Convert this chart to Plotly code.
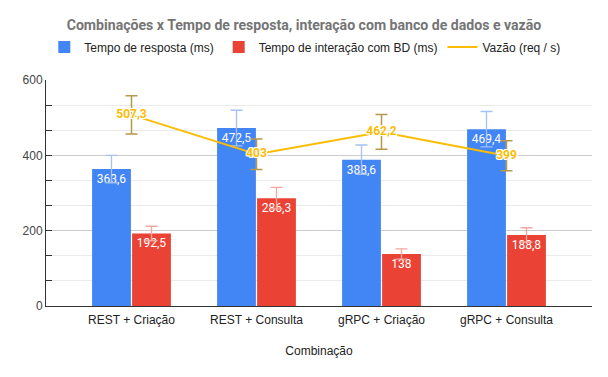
import plotly.graph_objects as go

categorias = ["REST + Criação", "REST + Consulta", "gRPC + Criação", "gRPC + Consulta"]
tempo_resposta = [363.6, 472.5, 388.6, 469.4]
tempo_bd = [192.5, 286.3, 138, 188.8]
vazao = [507.3, 403, 462.2, 399]
erro_percentual = 10

def fmt(v):
    s = ("%.1f" % v).rstrip("0").rstrip(".")
    return s.replace(".", ",")

label_font = "Roboto, Arial, sans-serif"
axis_font = "Arial, Liberation Sans, sans-serif"
outline = "1px 1px 0 #fff, -1px -1px 0 #fff, 1px -1px 0 #fff, -1px 1px 0 #fff, 0 1px 0 #fff, 0 -1px 0 #fff, 1px 0 0 #fff, -1px 0 0 #fff"

fig = go.Figure()
fig.add_trace(go.Bar(
    name="Tempo de resposta (ms)", x=categorias, y=tempo_resposta,
    marker=dict(color="#4285f4", line=dict(width=0)),
    text=[fmt(v) for v in tempo_resposta], textposition="inside", insidetextanchor="end",
    textfont=dict(color="white", size=12, family=label_font), textangle=0,
    error_y=dict(type="percent", value=erro_percentual, color="#a4c2f4", thickness=1.3, width=6),
))
fig.add_trace(go.Bar(
    name="Tempo de interação com BD (ms)", x=categorias, y=tempo_bd,
    marker=dict(color="#ea4335", line=dict(width=0)),
    text=[fmt(v) for v in tempo_bd], textposition="inside", insidetextanchor="end",
    textfont=dict(color="white", size=12, family=label_font), textangle=0,
    error_y=dict(type="percent", value=erro_percentual, color="#f4a7a0", thickness=1.3, width=6),
))
fig.add_trace(go.Scatter(
    name="Vazão (req / s)", x=categorias, y=vazao, mode="lines+text",
    line=dict(color="#fbbc04", width=2),
    text=[fmt(v) for v in vazao], textposition="middle center",
    textfont=dict(color="#fbbc04", size=12, family=label_font, weight="bold", shadow=outline),
    error_y=dict(type="percent", value=erro_percentual, color="#b5984a", thickness=1.5, width=6),
))

fig.update_layout(
    width=608, height=377,
    margin=dict(l=46, r=16, t=80, b=71),
    paper_bgcolor="white", plot_bgcolor="white",
    font=dict(family=axis_font, size=12, color="#222"),
    barmode="group", bargap=0.36, bargroupgap=0.03,
    separators=",.",
    title=dict(text="<b>Combinações x Tempo de resposta, interação com banco de dados e vazão</b>",
               x=0.5, xanchor="center", y=1 - 25 / 377, yanchor="middle",
               font=dict(size=14.1, color="#757575", family=label_font)),
    legend=dict(orientation="h", x=0.474, xanchor="center", y=1 + 33 / 226, yanchor="middle",
                font=dict(size=12, color="#222", family=axis_font), itemwidth=30, traceorder="normal"),
    showlegend=True,
)
fig.update_xaxes(
    range=[-0.684, 3.684], showline=True, linecolor="#333", linewidth=1,
    showgrid=False, ticks="", tickfont=dict(size=12, color="#222", family=axis_font),
    ticklabelstandoff=3,
    title=dict(text="Combinação", font=dict(size=12, color="#222", family=axis_font), standoff=20),
    automargin=False,
)
fig.update_yaxes(
    range=[0, 600], dtick=200, showline=True, linecolor="#333", linewidth=1,
    showgrid=True, gridcolor="#cccccc", gridwidth=1, zeroline=False,
    ticks="inside", ticklen=6, tickcolor="#333",
    tickfont=dict(size=12, color="#444", family=axis_font),
    minor=dict(dtick=200 / 3, ticks="inside", ticklen=6, tickcolor="#333", showgrid=True, gridcolor="#ebebeb"),
    automargin=False,
)

fig.write_html("out.html", config={"displayModeBar": False},
               post_script="document.body.style.margin='0';")
